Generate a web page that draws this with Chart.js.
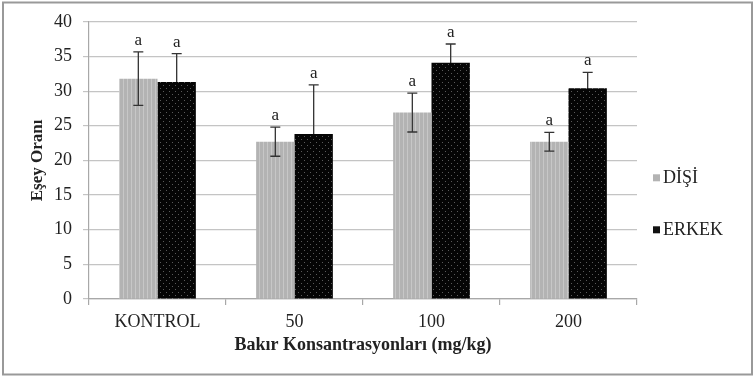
<!DOCTYPE html>
<html>
<head>
<meta charset="utf-8">
<script src="https://cdn.jsdelivr.net/npm/chart.js@4"></script>
<style>
  html, body { margin: 0; padding: 0; background: #fff; }
  #wrap { width: 754px; height: 377px; }
</style>
</head>
<body>
<div id="wrap"><canvas id="c" width="754" height="377"></canvas></div>
<script>
const categories = ['KONTROL', '50', '100', '200'];
const disiValues = [31.8, 22.7, 26.9, 22.7];
const disiErrors = [3.85, 2.1, 2.8, 1.35];
const erkekValues = [31.3, 23.8, 34.1, 30.4];
const erkekErrors = [4.1, 7.1, 2.7, 2.3];
const disiLetters = ['a', 'a', 'a', 'a'];
const erkekLetters = ['a', 'a', 'a', 'a'];
const yTicks = [0, 5, 10, 15, 20, 25, 30, 35, 40];

const serif = "'Liberation Serif', 'Times New Roman', serif";

function stripePattern() {
  const p = document.createElement('canvas');
  p.width = 4; p.height = 1;
  const g = p.getContext('2d');
  g.fillStyle = '#b3b3b3'; g.fillRect(0, 0, 4, 1);
  g.fillStyle = '#c7c7c7'; g.fillRect(3, 0, 1, 1);
  return g.createPattern(p, 'repeat');
}

function dotPattern() {
  const p = document.createElement('canvas');
  p.width = 6; p.height = 6;
  const g = p.getContext('2d');
  g.fillStyle = '#050505'; g.fillRect(0, 0, 6, 6);
  g.fillStyle = '#5a5a5a';
  g.fillRect(1, 1, 1, 1);
  g.fillRect(4, 4, 1, 1);
  return g.createPattern(p, 'repeat');
}

// white background + grey frame
const framePlugin = {
  id: 'frame',
  beforeDraw(chart) {
    const ctx = chart.ctx;
    ctx.save();
    ctx.fillStyle = '#fff';
    ctx.fillRect(0, 0, chart.width, chart.height);
    ctx.strokeStyle = '#999';
    ctx.lineWidth = 2;
    ctx.strokeRect(3, 2.5, 749, 372);
    ctx.restore();
  }
};

function drawErrors(chart, di) {
  const ctx = chart.ctx;
  const y = chart.scales.y;
  const errs = [disiErrors, erkekErrors][di];
  const ds = chart.data.datasets[di];
  ctx.save();
  chart.getDatasetMeta(di).data.forEach((bar, i) => {
    const top = y.getPixelForValue(ds.data[i] + errs[i]);
    const bot = y.getPixelForValue(ds.data[i] - errs[i]);
    ctx.strokeStyle = '#333';
    ctx.lineWidth = 1.3;
    ctx.beginPath();
    ctx.moveTo(bar.x, top); ctx.lineTo(bar.x, bot);
    ctx.moveTo(bar.x - 5, top); ctx.lineTo(bar.x + 5, top);
    ctx.moveTo(bar.x - 5, bot); ctx.lineTo(bar.x + 5, bot);
    ctx.stroke();
  });
  ctx.restore();
}

// error bars (ERKEK ones sit behind the black bars) and letters above them
const errorPlugin = {
  id: 'errbars',
  beforeDatasetsDraw(chart) {
    drawErrors(chart, 1);
  },
  afterDatasetsDraw(chart) {
    drawErrors(chart, 0);
    const ctx = chart.ctx;
    const y = chart.scales.y;
    const errs = [disiErrors, erkekErrors];
    const letters = [disiLetters, erkekLetters];
    ctx.save();
    ctx.fillStyle = '#222';
    ctx.font = "17px " + serif;
    ctx.textAlign = 'center';
    ctx.textBaseline = 'bottom';
    chart.data.datasets.forEach((ds, di) => {
      chart.getDatasetMeta(di).data.forEach((bar, i) => {
        const top = y.getPixelForValue(ds.data[i] + errs[di][i]);
        ctx.fillText(letters[di][i], bar.x, top - 3);
      });
    });
    ctx.restore();
  }
};

// legend drawn on the right side
const legendPlugin = {
  id: 'sideLegend',
  afterDraw(chart) {
    const ctx = chart.ctx;
    const area = chart.chartArea;
    const swatch = ['#b3b3b3', '#111'];
    ctx.save();
    ctx.font = "18px " + serif;
    ctx.textBaseline = 'middle';
    ctx.textAlign = 'left';
    chart.data.datasets.forEach((ds, i) => {
      const x = area.right + 16;
      const yy = area.top + 156 + i * 52;
      ctx.fillStyle = swatch[i];
      ctx.fillRect(x, yy - 3.5, 7, 7);
      ctx.fillStyle = '#222';
      ctx.fillText(ds.label, x + 10, yy);
    });
    ctx.restore();
  }
};

new Chart(document.getElementById('c').getContext('2d'), {
  type: 'bar',
  data: {
    labels: categories,
    datasets: [
      { label: 'DİŞİ', data: disiValues, backgroundColor: stripePattern(), borderWidth: 0 },
      { label: 'ERKEK', data: erkekValues, backgroundColor: dotPattern(), borderWidth: 0 }
    ]
  },
  options: {
    responsive: false,
    animation: false,
    layout: { padding: { top: 21, right: 117, bottom: 0, left: 0 } },
    datasets: { bar: { categoryPercentage: 0.56, barPercentage: 1 } },
    plugins: {
      legend: { display: false },
      tooltip: { enabled: false }
    },
    scales: {
      x: {
        afterFit(s) { s.height = 78; },
        grid: { display: true, drawOnChartArea: false, tickLength: 6, color: '#a8a8a8', lineWidth: 1.2 },
        border: { color: '#a8a8a8', width: 1.2 },
        ticks: { color: '#222', font: { family: serif, size: 18 }, padding: 6 },
        title: {
          display: true, text: 'Bakır Konsantrasyonları (mg/kg)', color: '#222',
          font: { family: serif, size: 18, weight: 'bold' }, padding: { top: 0, bottom: 21 }
        }
      },
      y: {
        min: 0, max: 40,
        afterFit(s) { s.width = 89; },
        afterBuildTicks(s) { s.ticks = yTicks.map(v => ({ value: v })); },
        grid: { color: '#c4c4c4', lineWidth: 1.2, tickLength: 6 },
        border: { color: '#a8a8a8', width: 1.2 },
        ticks: { color: '#222', font: { family: serif, size: 18 }, padding: 11 },
        title: {
          display: true, text: 'Eşey Oranı', color: '#222',
          font: { family: serif, size: 17, weight: 'bold' }, padding: { top: 27, bottom: 0 }
        }
      }
    }
  },
  plugins: [framePlugin, errorPlugin, legendPlugin]
});
</script>
</body>
</html>
